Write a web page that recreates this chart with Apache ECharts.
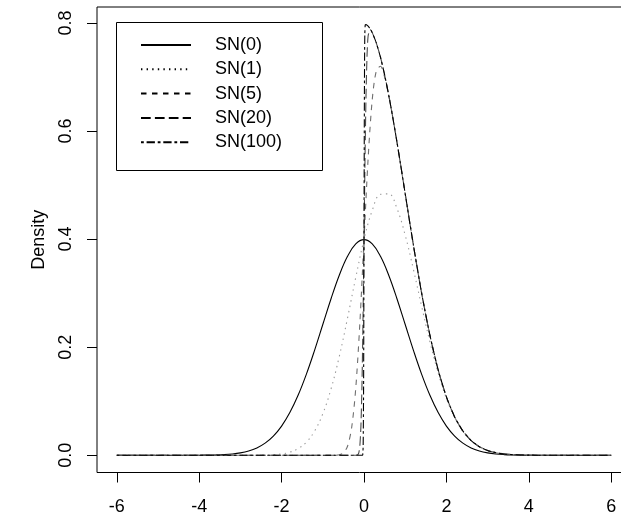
<!DOCTYPE html>
<html>
<head>
<meta charset="utf-8">
<script src="https://cdn.jsdelivr.net/npm/echarts@6/dist/echarts.min.js"></script>
<style>html,body{margin:0;padding:0;background:#fff;}#c{width:621px;height:516px;}</style>
</head>
<body>
<div id="c"></div>
<script>
const seriesNames = ['SN(0)', 'SN(1)', 'SN(5)', 'SN(20)', 'SN(100)'];
const xTicks = [-6, -4, -2, 0, 2, 4, 6];
const yTicks = [0, 0.2, 0.4, 0.6, 0.8];

const xSN0 = [-6,-5,-4.5,-4,-3.8,-3.6,-3.4,-3.2,-3,-2.8,-2.6,-2.4,-2.2,-2,-1.8,-1.6,-1.4,-1.2,-1,-0.8,-0.6,-0.4,-0.2,0,0.2,0.4,0.6,0.8,1,1.2,1.4,1.6,1.8,2,2.2,2.4,2.6,2.8,3,3.2,3.4,3.6,3.8,4,4.5,5,6];
const ySN0 = [0,0.0000015,0.000016,0.000134,0.000292,0.000612,0.001232,0.002384,0.004432,0.007915,0.013583,0.022395,0.035475,0.053991,0.078950,0.110921,0.149727,0.194186,0.241971,0.289692,0.333225,0.368270,0.391043,0.398942,0.391043,0.368270,0.333225,0.289692,0.241971,0.194186,0.149727,0.110921,0.078950,0.053991,0.035475,0.022395,0.013583,0.007915,0.004432,0.002384,0.001232,0.000612,0.000292,0.000134,0.000016,0.0000015,0];

const xSN1 = [-6,-5,-4,-3.4,-3.2,-3,-2.8,-2.6,-2.4,-2.2,-2,-1.8,-1.6,-1.4,-1.2,-1,-0.8,-0.6,-0.4,-0.2,0,0.2,0.4,0.6,0.8,1,1.2,1.4,1.6,1.8,2,2.2,2.4,2.6,2.8,3,3.2,3.4,3.6,3.8,4,4.5,5,6];
const ySN1 = [0,0,0,0,0,0.000012,0.00004,0.000127,0.000367,0.000986,0.00246,0.00567,0.01216,0.02418,0.04469,0.07678,0.12275,0.18277,0.25380,0.32906,0.39894,0.45303,0.48274,0.48368,0.45663,0.40716,0.34368,0.27527,0.20969,0.15223,0.10553,0.06996,0.04442,0.02704,0.01579,0.00885,0.00477,0.00246,0.00122,0.00058,0.00027,0.00003,0,0];

const xSN5 = [-6,-5,-4,-3,-2,-1,-0.8,-0.7,-0.6,-0.5,-0.4,-0.3,-0.2,-0.1,0,0.1,0.2,0.3,0.4,0.5,0.6,0.7,0.8,0.9,1,1.2,1.4,1.6,1.8,2,2.2,2.4,2.6,2.8,3,3.2,3.4,3.6,3.8,4,4.5,5,6];
const ySN5 = [0,0,0,0,0,0,0.00002,0.000145,0.0009,0.00437,0.01676,0.05096,0.12409,0.24495,0.39894,0.54895,0.65800,0.71181,0.71978,0.69976,0.66555,0.62436,0.57938,0.53217,0.48394,0.38837,0.29945,0.22184,0.15790,0.10798,0.07095,0.04479,0.02717,0.01583,0.00886,0.00477,0.00246,0.00122,0.00058,0.00027,0.00003,0,0];

const xSN20 = [-6,-5,-4,-3,-2,-1,-0.3,-0.2,-0.15,-0.125,-0.1,-0.075,-0.05,-0.025,0,0.025,0.05,0.075,0.1,0.15,0.2,0.3,0.4,0.5,0.6,0.7,0.8,0.9,1,1.2,1.4,1.6,1.8,2,2.2,2.4,2.6,2.8,3,3.2,3.4,3.6,3.8,4,4.5,5,6];
const ySN20 = [0,0,0,0,0,0,0,0.000025,0.00107,0.00492,0.01806,0.05316,0.12643,0.24610,0.39894,0.55153,0.67045,0.74248,0.77584,0.78789,0.78209,0.76278,0.73654,0.70413,0.66645,0.62451,0.57938,0.53217,0.48394,0.38837,0.29945,0.22184,0.15790,0.10798,0.07095,0.04479,0.02717,0.01583,0.00886,0.00477,0.00246,0.00122,0.00058,0.00027,0.00003,0,0];

const xSN100 = [-6,-5,-4,-3,-2,-1,-0.04,-0.03,-0.02,-0.01,-0.005,0,0.005,0.01,0.015,0.02,0.03,0.05,0.1,0.15,0.2,0.3,0.4,0.5,0.6,0.7,0.8,0.9,1,1.2,1.4,1.6,1.8,2,2.2,2.4,2.6,2.8,3,3.2,3.4,3.6,3.8,4,4.5,5,6];
const ySN100 = [0,0,0,0,0,0,0,0.00108,0.01815,0.12659,0.24618,0.39894,0.55170,0.67126,0.74449,0.77958,0.79645,0.79689,0.79391,0.78896,0.78209,0.76278,0.73654,0.70413,0.66645,0.62451,0.57938,0.53217,0.48394,0.38837,0.29945,0.22184,0.15790,0.10798,0.07095,0.04479,0.02717,0.01583,0.00886,0.00477,0.00246,0.00122,0.00058,0.00027,0.00003,0,0];

const FONT = '"Liberation Sans", Arial, Helvetica, sans-serif';
const xsAll = [xSN0, xSN1, xSN5, xSN20, xSN100];
const ysAll = [ySN0, ySN1, ySN5, ySN20, ySN100];
const styles = [
  {color:'#000000', type:'solid', smooth: 0.4},
  {color:'#9a9a9a', type:[1.4,4.2], smooth: 0.4},
  {color:'#6e6e6e', type:[5.5,5.5], smooth: 0.3},
  {color:'#4a4a4a', type:[9.7,4.2], smooth: 0.2},
  {color:'#000000', type:[2.8,2.8,8.3,2.8], smooth: 0.2}
];

const chart = echarts.init(document.getElementById('c'), null, {renderer:'canvas'});
chart.setOption({
  animation: false,
  backgroundColor: '#fff',
  textStyle: {fontFamily: FONT},
  grid: {left: 97, top: 7, width: 534, height: 465.5, show: true, borderColor: '#000', borderWidth: 1,
    backgroundColor: 'transparent', containLabel: false, outerBoundsMode: 'none'},
  xAxis: {
    type: 'value', min: -6.48, max: 6.48,
    axisLine: {show: false, onZero: false},
    splitLine: {show: false},
    axisTick: {show: true, customValues: xTicks, length: 10, inside: false, lineStyle: {color: '#000', width: 1}},
    axisLabel: {customValues: xTicks, margin: 26, color: '#000', fontSize: 18, fontFamily: FONT}
  },
  yAxis: {
    type: 'value', min: -0.0319, max: 0.8295,
    axisLine: {show: false, onZero: false},
    splitLine: {show: false},
    axisTick: {show: true, customValues: yTicks, length: 10, inside: false, lineStyle: {color: '#000', width: 1}},
    axisLabel: {customValues: yTicks, margin: 22, rotate: 90, color: '#000', fontSize: 18, fontFamily: FONT,
      formatter: v => v.toFixed(1)},
    name: 'Density', nameLocation: 'middle', nameGap: 49, nameRotate: 90,
    nameTextStyle: {color: '#000', fontSize: 18, fontFamily: FONT}
  },
  legend: {
    orient: 'vertical', left: 140, top: 35, itemWidth: 50, itemHeight: 14, itemGap: 4.3,
    padding: 0,
    itemStyle: {opacity: 0},
    textStyle: {fontSize: 18, color: '#000', fontFamily: FONT, lineHeight: 20, padding: [0, 0, 0, 19]},
    data: seriesNames.map(n => ({name: n, lineStyle: {color: '#000'}}))
  },
  graphic: [{
    type: 'rect', z: 3,
    shape: {x: 116.5, y: 22.5, width: 206, height: 148},
    style: {fill: '#fff', stroke: '#000', lineWidth: 1}
  }],
  series: seriesNames.map((n, i) => ({
    name: n, type: 'line', symbol: 'none', showSymbol: false,
    smooth: styles[i].smooth,
    data: xsAll[i].map((x, j) => [x, ysAll[i][j]]),
    lineStyle: {color: styles[i].color, type: styles[i].type, width: 1.1},
    itemStyle: {color: styles[i].color}
  }))
});
</script>
</body>
</html>
